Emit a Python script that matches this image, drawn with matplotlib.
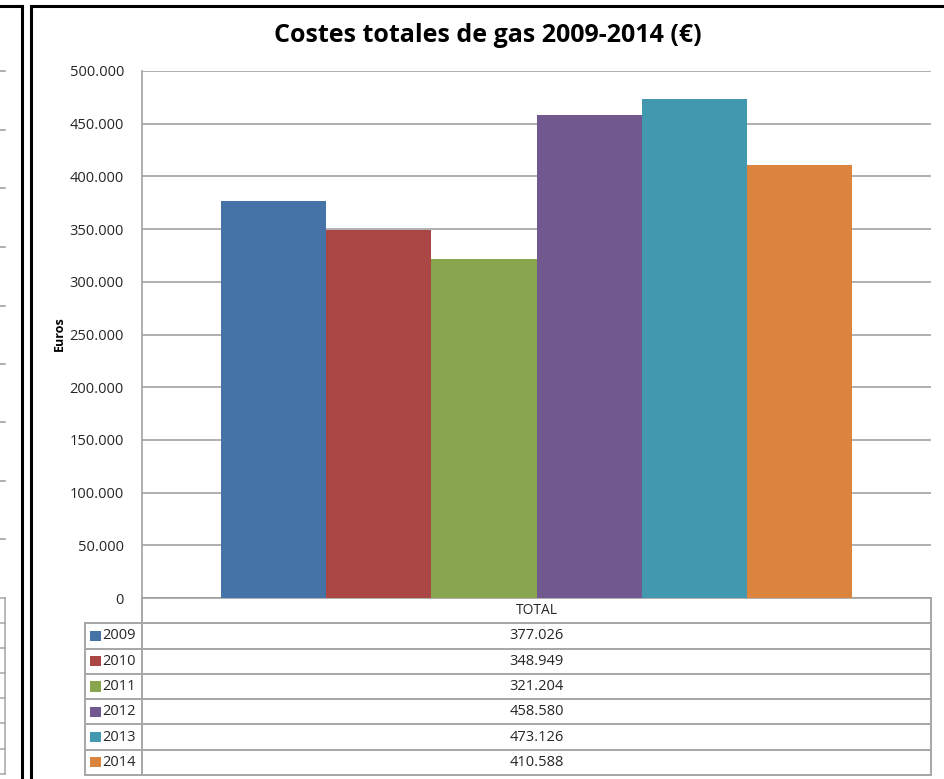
import matplotlib
matplotlib.use("Agg")
import matplotlib.pyplot as plt
from matplotlib.lines import Line2D
from matplotlib.patches import Rectangle
from matplotlib.ticker import FuncFormatter, MultipleLocator

plt.rcParams['font.family'] = ['Open Sans', 'DejaVu Sans']

# Gas costs per year (euros)
years = ['2009', '2010', '2011', '2012', '2013', '2014']
costs = [377026, 348949, 321204, 458580, 473126, 410588]
category = 'TOTAL'
colors = ['#4572A7', '#AA4643', '#89A54E', '#71588F', '#4198AF', '#DB843D']

W, H = 944, 779
GRID = '#9a9a9a'
TABLE_LINE = '#a6a6a6'
TEXT = '#262626'


def fx(x):
    return x / W


def fy(y):
    return 1 - y / H


def thousands(v, pos=None):
    return f"{int(v):,}".replace(",", ".")


fig = plt.figure(figsize=(W / 100, H / 100), dpi=100)
fig.patch.set_facecolor('white')

# main plot area
ax = fig.add_axes([fx(142), fy(598), fx(931) - fx(142), fy(71) - fy(598)])
n = len(years)
offsets = [i - (n - 1) / 2 for i in range(n)]
ax.bar(offsets, costs, width=1.0, color=colors, zorder=3)
ax.set_xlim(-3.75, 3.75)
ax.set_ylim(0, 500000)
ax.yaxis.set_major_locator(MultipleLocator(50000))
ax.yaxis.set_major_formatter(FuncFormatter(thousands))
ax.grid(axis='y', color=GRID, linewidth=1.1, zorder=0)
ax.set_xticks([])
ax.tick_params(axis='y', length=0, pad=13, labelsize=10.5, labelcolor=TEXT)
for side in ['top', 'right']:
    ax.spines[side].set_visible(False)
for side in ['left', 'bottom']:
    ax.spines[side].set_color(GRID)
    ax.spines[side].set_linewidth(1.1)

fig.text(fx(59), fy(334), 'Euros', rotation=90, ha='center', va='center',
         fontsize=9, fontweight='bold', color='black')
fig.text(fx(488), fy(35), 'Costes totales de gas 2009-2014 (€)', ha='center',
         va='center', fontsize=18, fontweight='bold', color='black')

# data table under the plot
tab = fig.add_axes([fx(85), fy(775), fx(931) - fx(85), fy(598) - fy(775)])
tab.set_xlim(0, 846)
tab.set_ylim(n + 1, 0)
tab.axis('off')
split = 142 - 85
lw = 1.4
for r in range(1, n + 2):
    tab.plot([0, 846], [r, r], color=TABLE_LINE, lw=lw, clip_on=False)
tab.plot([0, 0], [1, n + 1], color=TABLE_LINE, lw=lw, clip_on=False)
tab.plot([split, split], [0, n + 1], color=TABLE_LINE, lw=lw, clip_on=False)
tab.plot([846, 846], [0, n + 1], color=TABLE_LINE, lw=lw, clip_on=False)

mid = (split + 846) / 2
tab.text(mid, 0.5, category, ha='center', va='center', fontsize=10, color=TEXT)
for i, (yr, v, c) in enumerate(zip(years, costs, colors)):
    row = i + 1.5
    tab.add_patch(Rectangle((5, row - 0.2), 11, 0.4, facecolor=c,
                            edgecolor='none', clip_on=False))
    tab.text(17, row, yr, ha='left', va='center', fontsize=10.5, color=TEXT)
    tab.text(mid, row, thousands(v), ha='center', va='center', fontsize=10.5,
             color=TEXT)

# chart frames
fig.add_artist(Line2D([fx(31), fx(31)], [fy(6), 0], color='black', lw=2.2))
fig.add_artist(Line2D([fx(31), 1], [fy(6), fy(6)], color='black', lw=2.2))
fig.add_artist(Line2D([fx(22), fx(22)], [fy(6), 0], color='black', lw=2.2))
fig.add_artist(Line2D([0, fx(22)], [fy(6), fy(6)], color='black', lw=2.2))

# edge of the neighbouring chart on the left
for y in [71, 130, 188, 247, 306, 364, 422, 481, 539]:
    fig.add_artist(Line2D([0, fx(5)], [fy(y), fy(y)], color=GRID, lw=1.1))
for y in [598, 623, 648, 673, 698, 723, 749, 774]:
    fig.add_artist(Line2D([0, fx(5)], [fy(y), fy(y)], color=TABLE_LINE, lw=1.1))
fig.add_artist(Line2D([fx(5), fx(5)], [fy(598), fy(774)], color=TABLE_LINE, lw=1.1))

fig.savefig('out.png', dpi=100)
